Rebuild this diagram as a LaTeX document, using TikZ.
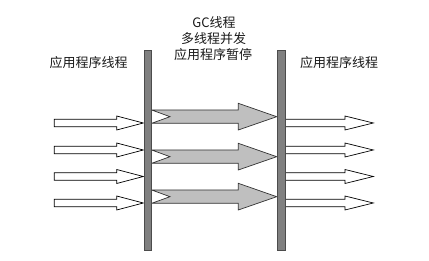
\documentclass[tikz,border=0pt]{standalone}
\usepackage{fontspec}
\setmainfont{Noto Sans CJK SC}
\begin{document}
\begin{tikzpicture}[x=1pt,y=-1pt,
  bar/.style={fill=black!50,draw=black!70,line width=0.8pt},
  warrow/.style={fill=white,draw=black,line width=0.7pt,line join=miter},
  garrow/.style={fill=black!25,draw=black!80,line width=0.7pt,line join=miter},
  lbl/.style={font=\fontsize{13}{16}\selectfont,inner sep=0pt,text=black!90}]
\useasboundingbox (0,0) rectangle (429,261);
% white arrows (left and right)
\foreach \y in {123,150,176.5,203}{
  \draw[warrow] (54.3,\y-3.7) -- (116.7,\y-3.7) -- (116.7,\y-7) -- (143.3,\y) -- (116.7,\y+7) -- (116.7,\y+3.7) -- (54.3,\y+3.7) -- cycle;
  \draw[warrow] (285,\y-3.7) -- (345,\y-3.7) -- (345,\y-7) -- (373.3,\y) -- (345,\y+7) -- (345,\y+3.7) -- (285,\y+3.7) -- cycle;
}
% gray notched arrows
\foreach \y in {116.7,156.7,196.7}{
  \draw[garrow] (151.7,\y-6.7) -- (238.3,\y-6.7) -- (238.3,\y-13.4) -- (276.7,\y) -- (238.3,\y+13.3) -- (238.3,\y+6.6) -- (151.7,\y+6.6) -- (170,\y) -- cycle;
}
% bars
\node[bar,minimum width=7.4pt,minimum height=200pt,inner sep=0pt] (lb) at (148,150) {};
\node[bar,minimum width=7.4pt,minimum height=200pt,inner sep=0pt] (rb) at (281.3,150) {};
% labels
\node[lbl] (l1) at (88.5,62.5) {应用程序线程};
\node[lbl] (l2) at (339,62.5) {应用程序线程};
\node[lbl] (m1) at (214,23) {GC线程};
\node[lbl] (m2) at (213.5,38.5) {多线程并发};
\node[lbl] (m3) at (213,54.5) {应用程序暂停};
\end{tikzpicture}
\end{document}
